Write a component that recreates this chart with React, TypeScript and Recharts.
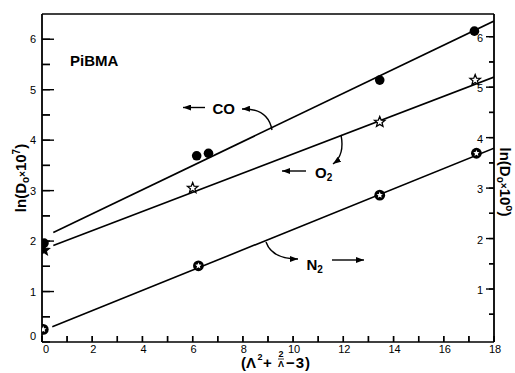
import React from 'react';
import { ComposedChart, Scatter, XAxis, YAxis } from 'recharts';

// axis ticks
const xTicks = [0, 1, 2, 3, 4, 5, 6, 7, 8, 9, 10, 11, 12, 13, 14, 15, 16, 17, 18];
const topTicks = [1, 2, 3, 4, 5, 6, 7, 8, 9, 10, 11, 12, 13, 14, 15, 16, 17];
const leftTicks = [0, 0.5, 1, 1.5, 2, 2.5, 3, 3.5, 4, 4.5, 5, 5.5, 6];
const rightTicks = [0.5, 1, 1.5, 2, 2.5, 3, 3.5, 4, 4.5, 5, 5.5, 6];

// measured points
const coX = [0.08, 6.16, 6.63, 13.45, 17.22];
const coY = [1.96, 3.69, 3.74, 5.19, 6.16];
const o2X = [0.08, 6.0, 13.45, 17.25];
const o2Y = [1.82, 3.05, 4.36, 5.19];
const n2X = [0.05, 6.23, 13.45, 17.3];
const n2Y = [0.25, 1.51, 2.91, 3.74];

// fitted lines (end points)
const coFitX = [0.45, 18];
const coFitY = [2.17, 6.36];
const o2FitX = [0.45, 18];
const o2FitY = [1.91, 5.25];
const n2FitX = [0.41, 18];
const n2FitY = [0.3, 3.84];

const zip = (xs: number[], ys: number[]) => xs.map((x, i) => ({ x, y: ys[i] }));

const coData = zip(coX, coY);
const o2Data = zip(o2X, o2Y);
const n2Data = zip(n2X, n2Y);
const coFit = zip(coFitX, coFitY);
const o2Fit = zip(o2FitX, o2FitY);
const n2Fit = zip(n2FitX, n2FitY);

const FONT = '"Liberation Sans", Arial, sans-serif';

// inward tick lengths (negative = drawn into the plot)
const LEFT_T = 8;
const RIGHT_T = 5;
const BOT_T = 6;
const TOP_T = 6;

const starPoints = (cx: number, cy: number, R: number, r: number) => {
  const pts: string[] = [];
  for (let i = 0; i < 10; i++) {
    const a = -Math.PI / 2 + (i * Math.PI) / 5;
    const rad = i % 2 === 0 ? R : r;
    pts.push(`${(cx + rad * Math.cos(a)).toFixed(2)},${(cy + rad * Math.sin(a)).toFixed(2)}`);
  }
  return pts.join(' ');
};

const Dot = (p: any) => <circle cx={p.cx} cy={p.cy} r={4.8} fill="#000" />;

const Star = (p: any) => (
  <polygon
    points={starPoints(p.cx, p.cy, 5.5, 2.4)}
    fill={p.payload && p.payload.x < 1 ? '#000' : '#fff'}
    stroke="#000"
    strokeWidth={1.3}
  />
);

const RingStar = (p: any) => (
  <g>
    <circle cx={p.cx} cy={p.cy} r={5.4} fill="#000" />
    <polygon points={starPoints(p.cx, p.cy, 3.3, 1.5)} fill="#fff" />
  </g>
);

const NoShape = () => <g />;

const BottomTick = (p: any) => {
  const x = Number(p.x);
  const y = Number(p.y) + BOT_T;
  const v = p.payload.value;
  return (
    <g>
      <path d={`M${x},${y}V${y - 6}`} stroke="#000" strokeWidth={1.4} />
      {v % 2 === 0 && (
        <text x={x + (v === 0 ? 4 : 1)} y={y + 11} textAnchor="middle" fontSize={11} fontFamily={FONT}>
          {String(v)}
        </text>
      )}
    </g>
  );
};

const TopTick = (p: any) => {
  const x = Number(p.x);
  const y = Number(p.y) - TOP_T;
  return (
    <g>
      <path d={`M${x},${y}V${y + 6}`} stroke="#000" strokeWidth={1.4} />
    </g>
  );
};

const LeftTick = (p: any) => {
  const x = Number(p.x) - LEFT_T;
  const y = Number(p.y);
  const v = p.payload.value;
  const major = Number.isInteger(v);
  return (
    <g>
      {v > 0 && <path d={`M${x},${y}H${x + (major ? 12 : 8)}`} stroke="#000" strokeWidth={1.4} />}
      {major && (
        <text x={x - 6} y={y + (v === 0 ? -2 : 4)} textAnchor="end" fontSize={11} fontFamily={FONT}>
          {String(v)}
        </text>
      )}
    </g>
  );
};

const RightTick = (p: any) => {
  const x = Number(p.x) + RIGHT_T;
  const y = Number(p.y);
  const v = p.payload.value;
  const major = Number.isInteger(v);
  return (
    <g>
      <path d={`M${x},${y}H${x - (major ? 8 : 5)}`} stroke="#000" strokeWidth={1.4} />
      {major && (
        <text x={x - 11} y={y + 5} textAnchor="end" fontSize={11} fontFamily={FONT}>
          {String(v)}
        </text>
      )}
    </g>
  );
};

const Notes = () => (
  <svg width={515} height={373} style={{ position: 'absolute', left: 0, top: 0, pointerEvents: 'none' }}>
    <defs>
      <marker id="ah" markerWidth={8} markerHeight={6} refX={8} refY={3} orient="auto" markerUnits="userSpaceOnUse">
        <path d="M0,0 L8,3 L0,6 z" fill="#000" />
      </marker>
    </defs>
    <g fontFamily={FONT} fontWeight="bold" fill="#000">
      <text x={70} y={65.5} fontSize={15}>PiBMA</text>

      <text x={212.5} y={114} fontSize={15}>CO</text>
      <line x1={205} y1={107.5} x2={183} y2={107.5} stroke="#000" strokeWidth={1.4} markerEnd="url(#ah)" />
      <path d="M272,130 Q268,108 242,109" fill="none" stroke="#000" strokeWidth={1.4} markerEnd="url(#ah)" />

      <text x={315} y={177.5} fontSize={15}>
        O<tspan fontSize={10} dy={3}>2</tspan>
      </text>
      <line x1={306} y1={171} x2={282} y2={171} stroke="#000" strokeWidth={1.4} markerEnd="url(#ah)" />
      <path d="M341,135 Q345,155 333,164" fill="none" stroke="#000" strokeWidth={1.4} markerEnd="url(#ah)" />

      <text x={306.5} y={270} fontSize={15}>
        N<tspan fontSize={10} dy={3}>2</tspan>
      </text>
      <line x1={332} y1={260} x2={364} y2={260} stroke="#000" strokeWidth={1.4} markerEnd="url(#ah)" />
      <path d="M266,242 Q272,259 298,259" fill="none" stroke="#000" strokeWidth={1.4} markerEnd="url(#ah)" />

      {/* x axis title */}
      <text x={241} y={368} fontSize={15}>(Λ</text>
      <text x={257.5} y={360} fontSize={9}>2</text>
      <text x={263} y={368} fontSize={15}>+</text>
      <text x={281} y={357} fontSize={9} textAnchor="middle">2</text>
      <line x1={278} x2={284} y1={359} y2={359} stroke="#000" strokeWidth={0.8} />
      <text x={281} y={367} fontSize={9} textAnchor="middle">Λ</text>
      <text x={286} y={368} fontSize={15} letterSpacing={1}>−3)</text>

      {/* left title */}
      <text x={26} y={178} fontSize={15} textAnchor="middle" transform="rotate(-90 26 178)">
        ln(D<tspan fontSize={10} dy={3}>o</tspan>
        <tspan fontSize={10} dy={-3}>×</tspan>10<tspan fontSize={10} dy={-6}>7</tspan>
        <tspan dy={6}>)</tspan>
      </text>

      {/* right title */}
      <text x={500} y={182} fontSize={15} textAnchor="middle" transform="rotate(90 500 182)">
        ln(D<tspan fontSize={10} dy={3}>o</tspan>
        <tspan fontSize={10} dy={-3}>×</tspan>10<tspan fontSize={10} dy={-6}>o</tspan>
        <tspan dy={6}>)</tspan>
      </text>
    </g>
  </svg>
);

const tickLineStyle = { stroke: '#000', strokeWidth: 1.4 };

export default function App() {
  return (
    <div style={{ position: 'absolute', left: 0, top: 0, width: 515, height: 373, background: '#fff' }}>
      <Notes />
      <div style={{ position: 'absolute', left: 0, top: 0, width: 515, height: 373 }}>
        <ComposedChart width={515} height={373} margin={{ top: 0, right: 0, bottom: 0, left: 0 }}>
          <XAxis xAxisId="b" dataKey="x" type="number" domain={[0, 18]} ticks={xTicks} interval={0} allowDataOverflow height={31}
            stroke="#000" tickSize={-BOT_T} tickMargin={0} tickLine={tickLineStyle}
            axisLine={{ stroke: '#000', strokeWidth: 1.6 }} tick={BottomTick} />
          <XAxis xAxisId="t" orientation="top" type="number" domain={[0, 18]} ticks={topTicks} interval={0} height={14}
            stroke="#000" tickSize={-TOP_T} tickMargin={0} tickLine={tickLineStyle}
            axisLine={{ stroke: '#000', strokeWidth: 1.6 }} tick={TopTick} />
          <YAxis yAxisId="left" dataKey="y" type="number" domain={[0, 6.5]} ticks={leftTicks} interval={0} allowDataOverflow width={42}
            stroke="#000" tickSize={-LEFT_T} tickMargin={0} tickLine={tickLineStyle}
            axisLine={{ stroke: '#000', strokeWidth: 1.8 }} tick={LeftTick} />
          <YAxis yAxisId="right" orientation="right" type="number" domain={[-0.05, 6.45]} ticks={rightTicks} interval={0} allowDataOverflow width={21}
            stroke="#000" tickSize={-RIGHT_T} tickMargin={0} tickLine={tickLineStyle}
            axisLine={{ stroke: '#000', strokeWidth: 1.8 }} tick={RightTick} />
          <Scatter xAxisId="b" yAxisId="left" data={coFit} line={{ stroke: '#000', strokeWidth: 1.6 }} shape={NoShape} isAnimationActive={false} />
          <Scatter xAxisId="b" yAxisId="left" data={o2Fit} line={{ stroke: '#000', strokeWidth: 1.6 }} shape={NoShape} isAnimationActive={false} />
          <Scatter xAxisId="b" yAxisId="left" data={n2Fit} line={{ stroke: '#000', strokeWidth: 1.6 }} shape={NoShape} isAnimationActive={false} />
          <Scatter xAxisId="b" yAxisId="left" data={o2Data} shape={Star} isAnimationActive={false} />
          <Scatter xAxisId="b" yAxisId="left" data={n2Data} shape={RingStar} isAnimationActive={false} />
          <Scatter xAxisId="b" yAxisId="left" data={coData} shape={Dot} isAnimationActive={false} />
        </ComposedChart>
      </div>
    </div>
  );
}
